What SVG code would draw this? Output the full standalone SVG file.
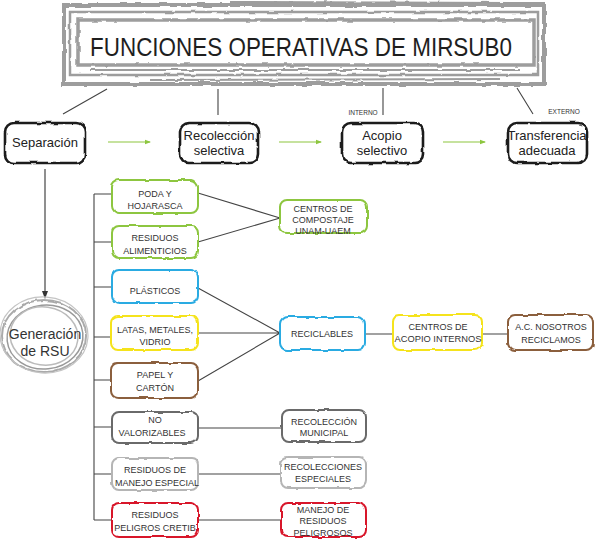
<svg xmlns="http://www.w3.org/2000/svg" width="600" height="542" viewBox="0 0 600 542">
<defs>
<filter id="rough" x="-10%" y="-20%" width="120%" height="140%">
<feTurbulence type="fractalNoise" baseFrequency="0.09" numOctaves="2" seed="3" result="n"/>
<feDisplacementMap in="SourceGraphic" in2="n" scale="3" xChannelSelector="R" yChannelSelector="G"/>
</filter>
<marker id="ag" viewBox="0 0 6 6" refX="5" refY="3" markerWidth="6" markerHeight="6" orient="auto" markerUnits="userSpaceOnUse">
<path d="M0,0.8 L6,3 L0,5.2 z" fill="#8dc63f"/>
</marker>
<marker id="ab" viewBox="0 0 6 8" refX="3" refY="8" markerWidth="6" markerHeight="8" orient="auto" markerUnits="userSpaceOnUse">
<path d="M0,0 L3,8 L6,0 z" fill="#333" transform="rotate(-90 3 4)"/>
</marker>
<style>
text{font-family:"Liberation Sans",Arial,sans-serif;fill:#333;text-anchor:middle}
.top{font-size:13px;fill:#222}
.sm{font-size:9px}
.tiny{font-size:6.5px}
.b{fill:#fff;stroke-width:2;filter:url(#rough)}
.k{stroke:#1a1a1a;stroke-width:2.6}
.g{stroke:#8dc63f}
.bl{stroke:#29abe2}
.y{stroke:#f5e31a}
.br{stroke:#8b5e3c}
.dg{stroke:#6a6a6a}
.lg{stroke:#b5b5b5}
.r{stroke:#d8192b}
.ln{stroke:#444;stroke-width:1.1;fill:none}
.tb{fill:none;stroke:#9d9d9d;filter:url(#rough)}
</style>
</defs>

<g id="title">
<rect class="tb" x="64" y="5" width="480" height="79" stroke-width="4"/>
<rect class="tb" x="70" y="12" width="468" height="63" stroke-width="2.5"/>
<rect class="tb" x="78" y="20" width="456" height="45" stroke-width="3.5"/>
<path class="tb" d="M90,70 L520,70 M150,80 L500,79 M230,2 L540,3" stroke-width="2"/>
<text x="301" y="56" style="font-size:25px;fill:#1e1e1e" textLength="422" lengthAdjust="spacingAndGlyphs">FUNCIONES OPERATIVAS DE MIRSUB0</text>
</g>

<g id="connectors">
<path class="ln" d="M107,89 L63,114 M218,89 L218,115 M383,88 L383,115 M517,88 L533,114"/>
<path d="M108,142 L150,142" stroke="#8dc63f" stroke-width="1.2" marker-end="url(#ag)"/>
<path d="M279,142 L321,142" stroke="#8dc63f" stroke-width="1.2" marker-end="url(#ag)"/>
<path d="M443,142 L485,142" stroke="#8dc63f" stroke-width="1.2" marker-end="url(#ag)"/>
<path d="M45,169 L45,292" stroke="#333" stroke-width="1.1"/>
<path d="M42,291 L45,299 L48,291 z" fill="#333"/>
<path class="ln" d="M94,194 L94,520 M94,194 L112,194 M94,242 L112,242 M94,287 L112,287 M94,337 L111,337 M94,380 L111,380 M94,427 L112,427 M94,474 L112,474 M94,520 L112,520"/>
<path class="ln" d="M198,193 L280,218 M198,242 L280,218"/>
<path class="ln" d="M198,288 L280,333 M198,333 L280,333 M198,381 L280,333"/>
<path class="ln" d="M365,334 L393,334 M482,334 L508,334"/>
<path class="ln" d="M198,428 L282,428 M198,474 L281,474 M198,520 L281,520"/>
</g>

<g id="separacion"><rect class="b k" x="5" y="123" width="80" height="40" rx="9"/><text class="top" x="45" y="147">Separación</text></g>
<g id="recoleccion"><rect class="b k" x="180" y="123" width="78" height="40" rx="9"/><text class="top" x="219" y="140">Recolección</text><text class="top" x="219" y="155">selectiva</text></g>
<g id="acopio"><rect class="b k" x="342" y="123" width="81" height="40" rx="9"/><text class="top" x="382" y="140">Acopio</text><text class="top" x="382" y="155">selectivo</text><text class="tiny" x="363" y="115">INTERNO</text></g>
<g id="transferencia"><rect class="b k" x="508" y="123" width="79" height="40" rx="9"/><text class="top" x="547" y="140">Transferencia</text><text class="top" x="547" y="155">adecuada</text><text class="tiny" x="564" y="114">EXTERNO</text></g>

<g id="generacion">
<ellipse cx="44" cy="336" rx="42" ry="36" fill="none" stroke="#aaa" stroke-width="2" filter="url(#rough)"/>
<ellipse cx="45" cy="337" rx="38" ry="32" fill="none" stroke="#999" stroke-width="1.5" transform="rotate(-6 45 337)"/>
<ellipse cx="44" cy="336" rx="34" ry="29" fill="none" stroke="#bbb" stroke-width="1.5" transform="rotate(8 44 336)"/>
<ellipse cx="44" cy="335" rx="44" ry="38" fill="none" stroke="#c4c4c4" stroke-width="1.2" transform="rotate(4 44 335)"/>
<text x="45" y="339" style="font-size:14px">Generación</text>
<text x="45" y="356" style="font-size:14px">de RSU</text>
</g>

<g id="poda"><rect class="b g" x="112" y="180" width="86" height="33" rx="7"/><text class="sm" x="155" y="196.5">PODA Y</text><text class="sm" x="155" y="208.5">HOJARASCA</text></g>
<g id="alimenticios"><rect class="b g" x="112" y="226" width="86" height="32" rx="7"/><text class="sm" x="155" y="240.5">RESIDUOS</text><text class="sm" x="155" y="253.5">ALIMENTICIOS</text></g>
<g id="plasticos"><rect class="b bl" x="112" y="270" width="86" height="33" rx="7"/><text class="sm" x="155" y="294">PLÁSTICOS</text></g>
<g id="latas"><rect class="b y" x="111" y="316" width="87" height="34" rx="7"/><text class="sm" x="155" y="333">LATAS, METALES,</text><text class="sm" x="155" y="345">VIDRIO</text></g>
<g id="papel"><rect class="b br" x="111" y="363" width="87" height="35" rx="7"/><text class="sm" x="155" y="378">PAPEL Y</text><text class="sm" x="155" y="391">CARTÓN</text></g>
<g id="novalorizables"><rect class="b dg" x="112" y="412" width="86" height="31" rx="7"/><text class="sm" x="155" y="423">NO</text><text class="sm" x="152" y="436">VALORIZABLES</text></g>
<g id="manejoespecial"><rect class="b lg" x="112" y="458" width="86" height="32" rx="7"/><text class="sm" x="155" y="473">RESIDUOS DE</text><text class="sm" x="157" y="486">MANEJO ESPECIAL</text></g>
<g id="cretib"><rect class="b r" x="112" y="503" width="86" height="34" rx="7"/><text class="sm" x="155" y="518">RESIDUOS</text><text class="sm" x="155" y="531">PELIGROS CRETIB</text></g>

<g id="compostaje"><rect class="b g" x="280" y="200" width="87" height="33" rx="7"/><text class="sm" x="323" y="211.5">CENTROS DE</text><text class="sm" x="323" y="222.5">COMPOSTAJE</text><text class="sm" x="323" y="233.5">UNAM-UAEM</text></g>
<g id="reciclables"><rect class="b bl" x="280" y="317" width="85" height="33" rx="7"/><text class="sm" x="322" y="337">RECICLABLES</text></g>
<g id="acopiointernos"><rect class="b y" x="393" y="315" width="89" height="35" rx="7"/><text class="sm" x="438" y="330">CENTROS DE</text><text class="sm" x="438" y="342" style="font-size:9.3px">ACOPIO INTERNOS</text></g>
<g id="nosotros"><rect class="b br" x="508" y="315" width="85" height="35" rx="7"/><text class="sm" x="551" y="330">A.C. NOSOTROS</text><text class="sm" x="551" y="343">RECICLAMOS</text></g>
<g id="municipal"><rect class="b dg" x="282" y="410" width="84" height="32" rx="7"/><text class="sm" x="324" y="425">RECOLECCIÓN</text><text class="sm" x="324" y="436">MUNICIPAL</text></g>
<g id="especiales"><rect class="b lg" x="281" y="457" width="85" height="31" rx="7"/><text class="sm" x="323" y="470">RECOLECCIONES</text><text class="sm" x="323" y="482">ESPECIALES</text></g>
<g id="peligrosos"><rect class="b r" x="281" y="503" width="85" height="34" rx="7"/><text class="sm" x="323" y="513">MANEJO DE</text><text class="sm" x="323" y="524">RESIDUOS</text><text class="sm" x="323" y="536">PELIGROSOS</text></g>
</svg>
